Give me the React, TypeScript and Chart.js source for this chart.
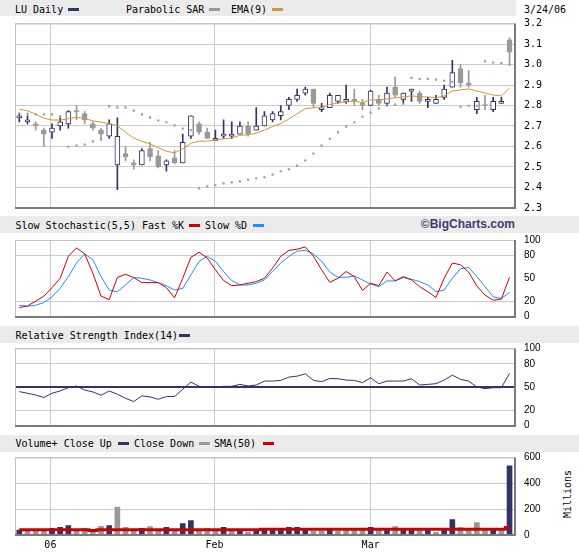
import React, { useEffect, useRef } from 'react';
import { Chart, registerables } from 'chart.js';

Chart.register(...registerables);

// ---------------- data ----------------
const monthPos = [3.8, 23.9, 43.0];
const monthLabels = ['06', 'Feb', 'Mar'];
const priceTicks = [2.3, 2.4, 2.5, 2.6, 2.7, 2.8, 2.9, 3.0, 3.1, 3.2];
const oscTicks = [0, 20, 50, 80, 100];
const volTicks = [0, 200, 400, 600];

const opens = [2.74, 2.72, 2.71, 2.68, 2.67, 2.70, 2.71, 2.775, 2.76, 2.71, 2.68, 2.65, 2.51, 2.565, 2.52, 2.51, 2.59, 2.555, 2.51, 2.545, 2.52,
  2.65, 2.71, 2.67, 2.63, 2.65, 2.65, 2.66, 2.70, 2.68, 2.70, 2.73, 2.75, 2.80, 2.83, 2.86, 2.88, 2.78, 2.79, 2.82, 2.82,
  2.83, 2.81, 2.80, 2.83, 2.81, 2.89, 2.83, 2.87, 2.86, 2.82, 2.81, 2.84, 2.89, 2.98, 2.91, 2.78, 2.80, 2.78, 2.81, 3.12];
const highs = [2.76, 2.75, 2.72, 2.69, 2.71, 2.74, 2.775, 2.80, 2.77, 2.72, 2.69, 2.73, 2.74, 2.60, 2.535, 2.59, 2.62, 2.58, 2.535, 2.58, 2.66,
  2.75, 2.72, 2.69, 2.68, 2.73, 2.72, 2.72, 2.72, 2.79, 2.77, 2.77, 2.80, 2.84, 2.88, 2.89, 2.88, 2.81, 2.86, 2.85, 2.90,
  2.88, 2.83, 2.875, 2.85, 2.89, 2.94, 2.86, 2.88, 2.87, 2.84, 2.85, 2.90, 3.02, 3.00, 2.97, 2.84, 2.85, 2.84, 2.84, 3.13];
const lows = [2.72, 2.71, 2.68, 2.60, 2.64, 2.68, 2.69, 2.73, 2.71, 2.68, 2.63, 2.64, 2.39, 2.53, 2.49, 2.51, 2.53, 2.495, 2.48, 2.515, 2.52,
  2.64, 2.66, 2.64, 2.63, 2.64, 2.64, 2.66, 2.65, 2.68, 2.70, 2.72, 2.73, 2.78, 2.82, 2.85, 2.79, 2.77, 2.79, 2.81, 2.81,
  2.80, 2.78, 2.80, 2.80, 2.80, 2.84, 2.81, 2.82, 2.81, 2.79, 2.81, 2.83, 2.89, 2.89, 2.89, 2.76, 2.78, 2.77, 2.81, 3.00];
const closes = [2.75, 2.73, 2.70, 2.66, 2.69, 2.72, 2.77, 2.77, 2.73, 2.69, 2.66, 2.71, 2.65, 2.55, 2.51, 2.58, 2.55, 2.50, 2.53, 2.52, 2.62,
  2.75, 2.67, 2.64, 2.64, 2.66, 2.66, 2.70, 2.66, 2.70, 2.75, 2.76, 2.77, 2.83, 2.85, 2.88, 2.81, 2.79, 2.85, 2.85, 2.83,
  2.82, 2.80, 2.87, 2.81, 2.86, 2.85, 2.86, 2.88, 2.82, 2.83, 2.83, 2.88, 2.96, 2.91, 2.90, 2.82, 2.80, 2.82, 2.82, 3.06];
const ema9 = [2.782, 2.774, 2.758, 2.738, 2.729, 2.729, 2.735, 2.743, 2.737, 2.725, 2.719, 2.712, 2.701, 2.670, 2.641, 2.626, 2.612, 2.594, 2.577, 2.569, 2.589,
  2.616, 2.626, 2.626, 2.632, 2.637, 2.642, 2.655, 2.657, 2.665, 2.680, 2.698, 2.712, 2.734, 2.760, 2.784, 2.789, 2.790, 2.804, 2.813, 2.817,
  2.822, 2.814, 2.827, 2.827, 2.832, 2.837, 2.842, 2.847, 2.842, 2.842, 2.838, 2.847, 2.871, 2.876, 2.881, 2.871, 2.861, 2.851, 2.847, 2.886];
const sar = [2.761, 2.759, 2.757, 2.757, 2.757, 2.747, 2.599, 2.604, 2.610, 2.625, 2.635, 2.796, 2.791, 2.791, 2.775, 2.757, 2.742, 2.727, 2.718, 2.703, 2.688,
  2.679, 2.396, 2.406, 2.411, 2.420, 2.425, 2.430, 2.438, 2.445, 2.450, 2.463, 2.479, 2.489, 2.507, 2.532, 2.565, 2.604, 2.638, 2.669, 2.697,
  2.718, 2.745, 2.765, 2.786, 2.799, 2.804, 2.809, 2.935, 2.930, 2.930, 2.926, 2.921, 2.916, 2.794, 2.799, 2.799, 3.015, 3.010, 3.007, 2.999];
const fastK = [11.6, 13.8, 20, 26.6, 37.7, 50, 78.7, 89.7, 81.8, 56.6, 26.6, 22.1, 50.9, 55.3, 50.9, 44.3, 44.3, 44.3, 37.7, 24.4, 50,
  77.4, 84, 76.5, 61, 47, 40.3, 41.2, 43.4, 45.6, 50, 63.2, 78.7, 86.6, 87.9, 91, 78.7, 61, 44.7, 50, 58.8,
  52.2, 34.1, 43.4, 40.3, 58, 46.5, 52.2, 47.8, 39, 32.4, 24.9, 50, 69.9, 67.6, 58, 39.9, 28, 21.3, 22.7, 51.3];
const slowD = [14.7, 13.4, 14.7, 18.2, 25.7, 36.8, 52.2, 69.9, 81.8, 74.3, 52.2, 34.6, 32.4, 41.2, 50.9, 50, 47.8, 44.3, 40.3, 34.6, 36.8,
  54.4, 72.1, 78.7, 72.1, 58.8, 46.9, 41.2, 41.2, 43.4, 47.8, 58.8, 69.9, 78.7, 85.3, 86.6, 81.8, 72.1, 58, 51.3, 51.3,
  53.1, 47.8, 42.5, 39, 46.5, 46.5, 50.9, 48.7, 45.6, 41.2, 32.4, 34.6, 50, 62.4, 64.1, 52.2, 39, 25.7, 23.5, 31.5];
const rsi14 = [44, 41.9, 39.7, 36.3, 41.9, 44.9, 49.1, 51.3, 46.1, 43.6, 39.3, 44.9, 40.6, 35.4, 31.1, 38.4, 37.1, 34.1, 37.6, 37.6, 47,
  56.4, 50.9, 50, 50, 50.9, 50.9, 53.4, 51.3, 52.6, 57.7, 57.7, 58.6, 62.9, 64.1, 67.1, 58.6, 56.9, 61.1, 60.7, 59,
  58.6, 55.6, 62, 54.3, 57.7, 57.7, 57.7, 60.7, 52.6, 53.4, 54.3, 59, 65.4, 59.9, 57.7, 50, 47.9, 49.1, 49.1, 67.6];
const volume = [39, 39, 39, 39, 52, 60, 73, 34, 52, 42, 68, 73, 216, 60, 34, 52, 65, 39, 60, 39,
  88, 112, 34, 52, 39, 60, 39, 39, 21, 39, 52, 52, 47, 60, 60, 39, 29, 29, 44, 29,
  39, 44, 44, 60, 39, 44, 65, 44, 44, 39, 44, 21, 44, 120, 57, 44, 96, 39, 44, 34, 535];
const volCloseUp = [1, 0, 0, 0, 1, 1, 1, 0, 0, 0, 0, 1, 0, 0, 0, 1, 0, 0, 1, 0,
  1, 1, 0, 0, 0, 1, 0, 1, 0, 1, 1, 1, 1, 1, 1, 1, 0, 0, 1, 0,
  0, 0, 0, 1, 0, 1, 0, 1, 1, 0, 1, 0, 1, 1, 0, 0, 0, 0, 1, 0, 1];
const sma50 = [41, 41, 41, 41, 41, 41, 41, 41, 41, 34, 41, 41, 41, 41, 41, 41, 41, 41, 41, 41,
  41, 41, 41, 41, 41, 41, 41, 41, 41, 41, 45, 45, 45, 45, 45, 45, 45, 45, 45, 45,
  45, 45, 45, 45, 45, 45, 45, 45, 45, 45, 45, 45, 45, 45, 45, 45, 45, 45, 45, 45, 58];

// ---------------- style ----------------
const NAVY = '#333366';
const GRAY = '#999999';
const GOLD = '#cc9933';
const RED = '#cc0000';
const BLUE = '#1e8cff';
const GRID = '#cccccc';
const BAND = '#ebebeb';
const MONO = '"DejaVu Sans Mono", monospace';
const SANS = '"Liberation Sans", Arial, sans-serif';

const X_MIN = -0.53;
const X_MAX = 60.67;
const PLOT_LEFT = 15;
const AXIS_W = 64;
const X_AXIS_H = 18;

const idx = opens.map((_, i) => i);

const framePlugin = {
  id: 'frame',
  afterDatasetsDraw(chart: any) {
    const { ctx, chartArea: a } = chart;
    ctx.save();
    ctx.lineWidth = 1;
    ctx.strokeStyle = '#c4c4c4';
    ctx.beginPath();
    ctx.moveTo(a.left + 0.5, a.bottom);
    ctx.lineTo(a.left + 0.5, a.top + 0.5);
    ctx.lineTo(a.right, a.top + 0.5);
    ctx.stroke();
    ctx.lineWidth = 2;
    ctx.strokeStyle = '#7a7a7a';
    ctx.beginPath();
    ctx.moveTo(a.left, Math.round(a.bottom));
    ctx.lineTo(Math.round(a.right), Math.round(a.bottom));
    ctx.lineTo(Math.round(a.right), a.top);
    ctx.stroke();
    ctx.restore();
  },
};

function makeOptions(p: any) {
  return {
    animation: false,
    responsive: false,
    devicePixelRatio: 1,
    events: [],
    layout: { padding: { left: PLOT_LEFT, right: 0, top: p.padTop, bottom: p.padBottom } },
    plugins: { legend: { display: false }, tooltip: { enabled: false }, title: { display: false } },
    scales: {
      x: {
        type: 'linear',
        min: X_MIN,
        max: X_MAX,
        offset: false,
        grid: { color: GRID, offset: false, drawTicks: false, lineWidth: 1 },
        border: { display: false },
        ticks: p.showX
          ? { display: true, autoSkip: false, maxRotation: 0, padding: 4, color: '#000', font: { family: MONO, size: 10 }, callback: (_v: any, i: number) => monthLabels[i] }
          : { display: false },
        afterBuildTicks: (s: any) => { s.ticks = monthPos.map((v) => ({ value: v })); },
        afterFit: (s: any) => { s.height = p.showX ? X_AXIS_H : 0; },
      },
      y: {
        type: 'linear',
        position: 'right',
        min: p.min,
        max: p.max,
        grid: { color: p.gridColor, lineWidth: p.gridWidth || 1, drawTicks: true, tickLength: 9, tickColor: 'rgba(0,0,0,0)' },
        border: { display: false },
        ticks: { padding: 0, autoSkip: false, crossAlign: 'near', color: '#000', font: p.font, callback: p.fmt },
        afterBuildTicks: (s: any) => { s.ticks = p.ticks.map((v: number) => ({ value: v })); },
        afterFit: (s: any) => { s.width = AXIS_W; },
      },
    },
  };
}

const pts = (arr: number[]) => idx.map((i) => ({ x: i, y: arr[i] }));

export default function App() {
  const mainRef = useRef<HTMLCanvasElement>(null);
  const stoRef = useRef<HTMLCanvasElement>(null);
  const rsiRef = useRef<HTMLCanvasElement>(null);
  const volRef = useRef<HTMLCanvasElement>(null);

  useEffect(() => {
    const up = idx.map((i) => closes[i] > opens[i]);
    const charts: Chart[] = [];

    charts.push(new Chart(mainRef.current as HTMLCanvasElement, {
      type: 'bar',
      data: {
        datasets: [
          { type: 'line', data: pts(ema9), borderColor: GOLD, borderWidth: 1, pointRadius: 0, order: 0 } as any,
          { type: 'line', data: pts(sar), showLine: false, pointStyle: 'rect', pointRadius: 1.5, pointBackgroundColor: GRAY, pointBorderWidth: 0, order: 0 } as any,
          {
            type: 'bar', data: idx.map((i) => ({ x: i, y: [opens[i], closes[i]] })),
            backgroundColor: up.map((u) => (u ? '#ffffff' : GRAY)), borderColor: up.map((u) => (u ? NAVY : GRAY)),
            borderWidth: 1, borderSkipped: false, barThickness: 5, grouped: false, minBarLength: 1, order: 1,
          } as any,
          {
            type: 'bar', data: idx.map((i) => ({ x: i, y: [lows[i], highs[i]] })),
            backgroundColor: up.map((u) => (u ? NAVY : GRAY)), borderWidth: 0, barThickness: 1, grouped: false, order: 2,
          } as any,
        ],
      },
      options: makeOptions({
        padTop: 9.5, padBottom: 10, min: 2.3, max: 3.2, ticks: priceTicks, gridColor: GRID,
        font: { family: MONO, size: 10 }, fmt: (v: any) => Number(v).toFixed(1),
      }) as any,
      plugins: [framePlugin],
    }));

    const oscGrid = (ctx: any) => (ctx.tick && (ctx.tick.value === 20 || ctx.tick.value === 80 || ctx.tick.value === 100) ? GRID : 'rgba(0,0,0,0)');

    charts.push(new Chart(stoRef.current as HTMLCanvasElement, {
      type: 'line',
      data: {
        datasets: [
          { data: pts(fastK), borderColor: RED, borderWidth: 1, pointRadius: 0, order: 0 },
          { data: pts(slowD), borderColor: BLUE, borderWidth: 1, pointRadius: 0, order: 1 },
        ],
      },
      options: makeOptions({
        padTop: 9, padBottom: 8.5, min: 0, max: 100, ticks: oscTicks, gridColor: oscGrid,
        font: { family: SANS, size: 10 }, fmt: (v: any) => String(v),
      }) as any,
      plugins: [framePlugin],
    }));

    charts.push(new Chart(rsiRef.current as HTMLCanvasElement, {
      type: 'line',
      data: {
        datasets: [
          { data: pts(rsi14), borderColor: NAVY, borderWidth: 1, pointRadius: 0 },
        ],
      },
      options: makeOptions({
        padTop: 8.5, padBottom: 8.5, min: 0, max: 100, ticks: oscTicks,
        gridColor: (ctx: any) => (ctx.tick && ctx.tick.value === 50 ? NAVY : oscGrid(ctx)),
        gridWidth: (ctx: any) => (ctx.tick && ctx.tick.value === 50 ? 2 : 1),
        font: { family: SANS, size: 10 }, fmt: (v: any) => String(v),
      }) as any,
      plugins: [framePlugin],
    }));

    charts.push(new Chart(volRef.current as HTMLCanvasElement, {
      type: 'bar',
      data: {
        datasets: [
          { type: 'line', data: pts(sma50), borderColor: RED, borderWidth: 3, pointRadius: 0, stepped: 'middle', order: 0 } as any,
          {
            type: 'bar', data: pts(volume), backgroundColor: volCloseUp.map((u) => (u ? NAVY : GRAY)),
            borderWidth: 0, barThickness: 5, grouped: false, order: 1,
          } as any,
        ],
      },
      options: makeOptions({
        padTop: 8.5, padBottom: 0, showX: true, min: 0, max: 600, ticks: volTicks,
        gridColor: (ctx: any) => (ctx.tick && (ctx.tick.value === 200 || ctx.tick.value === 400 || ctx.tick.value === 600) ? GRID : 'rgba(0,0,0,0)'),
        font: { family: SANS, size: 10 }, fmt: (v: any) => String(v),
      }) as any,
      plugins: [framePlugin],
    }));

    return () => charts.forEach((c) => c.destroy());
  }, []);

  const txt = (x: number, top: number, s: string, extra: any = {}) => (
    <div style={{ position: 'absolute', left: x, top, font: `10px ${MONO}`, lineHeight: '17px', whiteSpace: 'pre', color: '#000', ...extra }}>{s}</div>
  );
  const sw = (x: number, top: number, color: string) => (
    <div style={{ position: 'absolute', left: x, top, width: 11, height: 3, background: color }} />
  );
  const band = (top: number, h: number, w: number) => (
    <div style={{ position: 'absolute', left: 0, top, width: w, height: h, background: BAND }} />
  );
  const cv = (ref: any, top: number, h: number) => (
    <canvas ref={ref} width={579} height={h} style={{ position: 'absolute', left: 0, top, width: 579, height: h }} />
  );

  // baselines
  const B0 = 12.7, B1 = 228.6, B2 = 338.6, B3 = 447.3;

  return (
    <div style={{ position: 'absolute', left: 0, top: 0, width: 579, height: 553, background: '#fff', overflow: 'hidden' }}>
      {band(0, 16, 516)}
      {txt(15, B0 - 12, 'LU Daily')}
      {sw(68, B0 - 5, NAVY)}
      {txt(126, B0 - 12, 'Parabolic SAR')}
      {sw(209, B0 - 5, GRAY)}
      {txt(231, B0 - 12, 'EMA(9)')}
      {sw(272, B0 - 5, GOLD)}
      {txt(524, B0 - 12, '3/24/06')}

      {band(216, 17, 579)}
      {txt(15.5, B1 - 12, 'Slow Stochastic(5,5) Fast %K')}
      {sw(189, B1 - 5, RED)}
      {txt(205, B1 - 12, 'Slow %D')}
      {sw(253, B1 - 5, BLUE)}
      <div style={{ position: 'absolute', right: 64, top: B1 - 12.7, font: `bold 12px ${SANS}`, lineHeight: '17px', color: '#3f3f6f', whiteSpace: 'pre' }}>©BigCharts.com</div>

      {band(326, 17, 579)}
      {txt(15.5, B2 - 12, 'Relative Strength Index(14)')}
      {sw(179, B2 - 5, NAVY)}

      {band(435, 17, 579)}
      {txt(15.5, B3 - 12, 'Volume+ Close Up')}
      {sw(118, B3 - 5, NAVY)}
      {txt(134, B3 - 12, 'Close Down')}
      {sw(199, B3 - 5, GRAY)}
      {txt(214, B3 - 12, 'SMA(50)')}
      {sw(263, B3 - 5, RED)}

      <div style={{ position: 'absolute', left: 567, top: 494, font: `10px ${MONO}`, whiteSpace: 'pre', color: '#000', transform: 'translate(-50%, -50%) rotate(-90deg)' }}>Millions</div>

      {cv(mainRef, 14, 204)}
      {cv(stoRef, 231, 94)}
      {cv(rsiRef, 340, 94)}
      {cv(volRef, 449, 104)}
    </div>
  );
}
